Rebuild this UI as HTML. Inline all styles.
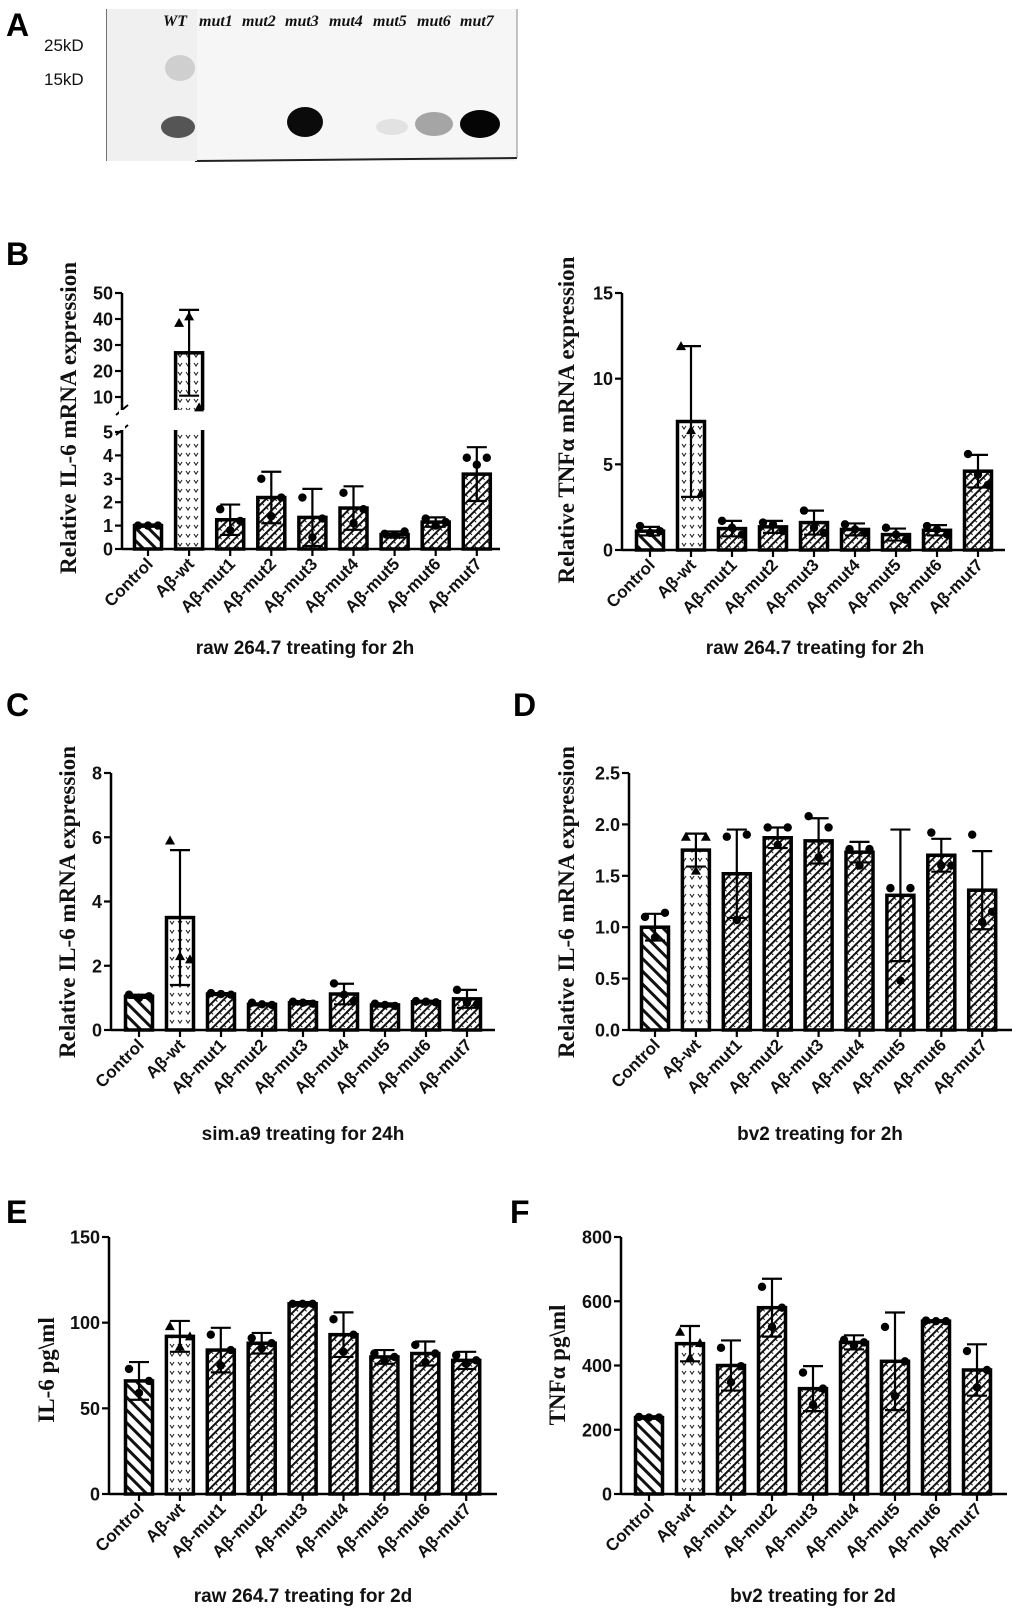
<!DOCTYPE html>
<html><head><meta charset="utf-8"><style>
html,body{margin:0;padding:0;background:#fff;}
svg{display:block;}
.tick{font:bold 18px "Liberation Sans",Arial,sans-serif;fill:#111;}
.cat{font:bold 17px "Liberation Sans",Arial,sans-serif;fill:#111;}
.ytitle{font:bold 23px "Liberation Serif","Times New Roman",serif;fill:#111;}
.xtitle{font:bold 19px "Liberation Sans",Arial,sans-serif;fill:#111;}
.plab{font:bold 32px "Liberation Sans",Arial,sans-serif;fill:#000;}
.lane{font:italic bold 16px "Liberation Serif",serif;fill:#111;}
.kd{font:17px "Liberation Sans",Arial,sans-serif;fill:#111;}
</style></head><body>
<svg id="fig" width="1020" height="1618" viewBox="0 0 1020 1618" xmlns="http://www.w3.org/2000/svg">
<defs>
<pattern id="pCtrl" patternUnits="userSpaceOnUse" width="9" height="9" patternTransform="rotate(-45)">
<rect width="9" height="9" fill="#fff"/><rect x="0" y="0" width="3" height="9" fill="#111"/></pattern>
<pattern id="pMut" patternUnits="userSpaceOnUse" width="6" height="6" patternTransform="rotate(45)">
<rect width="6" height="6" fill="#fff"/><rect x="0" y="0" width="2" height="6" fill="#111"/><rect x="2" y="2" width="2" height="1" fill="#111"/></pattern>
<pattern id="pWt" patternUnits="userSpaceOnUse" width="8" height="9">
<rect width="8" height="9" fill="#fff"/><path d="M2 3 L4 6 L6 3" stroke="#222" stroke-width="1.1" fill="none"/></pattern>
</defs>
<g id="panelA">
<text class="plab" x="6" y="36">A</text>
<rect x="107" y="9" width="410" height="152" fill="#f6f6f6"/>
<line x1="107" y1="9" x2="107" y2="161" stroke="#444" stroke-width="1.5"/>
<line x1="195" y1="161" x2="517" y2="158" stroke="#222" stroke-width="2"/>
<line x1="517" y1="9" x2="517" y2="158" stroke="#888" stroke-width="1"/>
<rect x="107" y="9" width="90" height="152" fill="#f0f0f0"/>
<ellipse cx="180" cy="68" rx="15" ry="13" fill="#cfcfcf"/>
<ellipse cx="178" cy="127" rx="17" ry="11" fill="#555"/>
<ellipse cx="305" cy="122" rx="18" ry="15" fill="#0b0b0b"/>
<ellipse cx="392" cy="127" rx="16" ry="8" fill="#e2e2e2"/>
<ellipse cx="434" cy="124" rx="19" ry="12" fill="#a5a5a5"/>
<ellipse cx="480" cy="124" rx="20" ry="14" fill="#050505"/>
<text class="kd" x="44" y="51">25kD</text>
<text class="kd" x="44" y="85">15kD</text>
<g id="lanes"></g>
</g>
</svg>
<script>
var NS="http://www.w3.org/2000/svg";
var svg=document.getElementById('fig');
var categories=["Control","Aβ-wt","Aβ-mut1","Aβ-mut2","Aβ-mut3","Aβ-mut4","Aβ-mut5","Aβ-mut6","Aβ-mut7"];
var laneNames=["WT","mut1","mut2","mut3","mut4","mut5","mut6","mut7"];
var laneX=[163,199,242,285,329,373,417,460];

var bL_means=[1.0,27,1.25,2.2,1.35,1.75,0.62,1.15,3.2];
var bL_sd=[0.05,16.5,0.65,1.1,1.22,0.93,0.13,0.2,1.15];
var bL_points=[[1,1,1],[38.5,41,6],[1.7,0.8,1.2],[3.0,1.4,2.2],[2.2,0.5,1.3],[2.4,1.1,1.7],[0.65,0.6,0.75],[1.3,1.0,1.15],[3.9,3.6,3.9]];
var bL_ticks=[0,1,2,3,4,5,10,20,30,40,50];
var bR_means=[1.1,7.5,1.25,1.35,1.6,1.2,0.9,1.15,4.6];
var bR_sd=[0.25,4.4,0.45,0.35,0.7,0.35,0.35,0.3,0.95];
var bR_points=[[1.4,1.0,1.1],[11.9,7.0,3.3],[1.7,1.3,0.9],[1.6,1.5,1.1],[2.3,1.3,1.0],[1.5,1.2,1.0],[1.3,0.9,0.6],[1.4,1.2,0.9],[5.6,4.4,3.8]];
var bR_ticks=[0,5,10,15];
var c_means=[1.05,3.5,1.12,0.8,0.85,1.12,0.78,0.88,0.97];
var c_sd=[0.05,2.1,0.03,0.03,0.05,0.32,0.05,0.03,0.28];
var c_points=[[1.1,1.0,1.05],[5.9,2.3,2.2],[1.15,1.12,1.1],[0.85,0.8,0.78],[0.88,0.85,0.82],[1.45,1.1,0.9],[0.82,0.78,0.75],[0.9,0.88,0.86],[1.25,0.85,0.8]];
var c_ticks=[0,2,4,6,8];
var d_means=[1.0,1.75,1.52,1.87,1.84,1.73,1.31,1.70,1.36];
var d_sd=[0.13,0.16,0.43,0.1,0.22,0.1,0.64,0.16,0.38];
var d_points=[[1.1,0.9,1.14],[1.88,1.55,1.88],[1.88,1.07,1.9],[1.97,1.8,1.97],[2.08,1.68,1.97],[1.76,1.6,1.76],[1.38,0.48,1.38],[1.92,1.6,1.6],[1.9,1.05,1.15]];
var d_ticks=[0,0.5,1.0,1.5,2.0,2.5];
var d_tickLabels=["0.0","0.5","1.0","1.5","2.0","2.5"];
var e_means=[66,92,84,88,111,93,80,82,78];
var e_sd=[11,9,13,6,1,13,4,7,5];
var e_points=[[73,59,66],[98,86,92],[93,75,84],[91,85,88],[111,111,111],[102,83,93],[82,78,80],[87,77,82],[81,76,78]];
var e_ticks=[0,50,100,150];
var f_means=[238,468,400,580,328,472,413,538,386];
var f_sd=[4,55,78,90,70,22,152,3,80];
var f_points=[[240,238,238],[505,425,470],[455,348,398],[645,520,580],[378,278,328],[480,462,472],[520,305,413],[540,538,538],[445,332,386]];
var f_ticks=[0,200,400,600,800];

function el(tag,attrs,parent){var e=document.createElementNS(NS,tag);for(var k in attrs)e.setAttribute(k,attrs[k]);(parent||svg).appendChild(e);return e;}

var lg=document.getElementById('lanes');
for(var i=0;i<laneNames.length;i++){
  var t=el('text',{'class':'lane',x:laneX[i],y:26},lg);
  
  
  t.textContent=laneNames[i];
}

function panel(o){
  var g=el('g',{});
  
  
  var yv=o.yScale;
  var xc=function(i){return o.c0+i*o.sp;};
  var bw=27;
  for(var i=0;i<categories.length;i++){
    var fill=i==0?'url(#pCtrl)':(i==1?'url(#pWt)':'url(#pMut)');
    var top=yv(o.means[i]);
    var r=el('rect',{x:xc(i)-bw/2,y:top,width:bw,height:o.y0-top,fill:fill,stroke:'#000','stroke-width':3.5},g);
    
    
  }
  if(o.broken){
    el('rect',{x:o.ax-4,y:o.gapTop,width:o.xEnd-o.ax+10,height:o.gapBot-o.gapTop,fill:'#fff'},g);
    el('line',{x1:o.ax-6,y1:o.gapTop+5,x2:o.ax+6,y2:o.gapTop-5,stroke:'#000','stroke-width':2},g);
    el('line',{x1:o.ax-6,y1:o.gapBot+5,x2:o.ax+6,y2:o.gapBot-5,stroke:'#000','stroke-width':2},g);
  }
  for(var i=0;i<categories.length;i++){
    var x=xc(i),m=o.means[i],s=o.sd[i];
    var yt=yv(m+s),yb=yv(Math.max(m-s,0));
    var eb=el('path',{d:'M'+x+' '+yb+' L'+x+' '+yt+' M'+(x-10)+' '+yt+' L'+(x+10)+' '+yt+(m-s>0?' M'+(x-10)+' '+yb+' L'+(x+10)+' '+yb:''),stroke:'#000','stroke-width':2.2,fill:'none'},g);
    
    
    var pts=o.points[i];
    var offs=[-10,0,10];
    for(var j=0;j<pts.length;j++){
      var py=yv(pts[j]),px=x+offs[j];
      var p;
      if(i==1){p=el('path',{d:'M'+px+' '+(py-5)+' L'+(px+5)+' '+(py+4)+' L'+(px-5)+' '+(py+4)+'Z',fill:'#000'},g);}
      else{p=el('circle',{cx:px,cy:py,r:4.2,fill:'#000'},g);}
      
      
    }
  }
  var yTop=yv(o.ticks[o.ticks.length-1]);
  var ya=el('line',{x1:o.ax,y1:o.y0,x2:o.ax,y2:yTop,stroke:'#000','stroke-width':2.5},g);
  
  
  if(o.broken){el('rect',{x:o.ax-3,y:o.gapTop,width:6,height:o.gapBot-o.gapTop,fill:'#fff'},g);}
  var xa=el('line',{x1:o.ax,y1:o.y0,x2:o.xEnd,y2:o.y0,stroke:'#000','stroke-width':2.5},g);
  
  
  for(var k=0;k<o.ticks.length;k++){
    var ty=yv(o.ticks[k]);
    el('line',{x1:o.ax-7,y1:ty,x2:o.ax,y2:ty,stroke:'#000','stroke-width':2.2},g);
    var tl=el('text',{'class':'tick',x:o.ax-9,y:ty+6.5,'text-anchor':'end'},g);
    
    
    tl.textContent=o.tickLabels?o.tickLabels[k]:String(o.ticks[k]);
  }
  for(var i=0;i<categories.length;i++){
    var x=xc(i);
    el('line',{x1:x,y1:o.y0,x2:x,y2:o.y0+7,stroke:'#000','stroke-width':2.2},g);
    var lx=x+6,ly=o.y0+16;
    var cl=el('text',{'class':'cat',x:lx,y:ly,'text-anchor':'end',transform:'rotate(-45 '+lx+' '+ly+')'},g);
    
    
    cl.textContent=categories[i];
  }
  var yt=el('text',{'class':'ytitle',x:o.ytx,y:o.yty,'text-anchor':'middle',transform:'rotate(-90 '+o.ytx+' '+o.yty+')'},g);
  
  
  yt.textContent=o.ytitle;
  var xt=el('text',{'class':'xtitle',x:o.xtx,y:o.xty,'text-anchor':'middle'},g);
  
  
  xt.textContent=o.xtitle;
  if(o.letter){
    var pl=el('text',{'class':'plab',x:o.lx,y:o.ly},g);
    
    
    pl.textContent=o.letter;
  }
}

function lin(y0,yTop,vmax){return function(v){return y0-(v/vmax)*(y0-yTop);};}
function brokenScale(v){ if(v<=5.2) return 549-v*23.4; var y=397-(v-10)*2.6; return Math.min(y,410);}

panel({name:'panel-b-il6-raw-2h',means:bL_means,sd:bL_sd,points:bL_points,ticks:bL_ticks,yScale:brokenScale,broken:true,gapTop:410,gapBot:430,
  ax:122,y0:549,xEnd:500,c0:148,sp:41.1,ytitle:'Relative IL-6 mRNA expression',ytx:76,yty:418,xtitle:'raw 264.7 treating for 2h',xtx:305,xty:654,letter:'B',lx:6,ly:265});
panel({name:'panel-b-tnfa-raw-2h',means:bR_means,sd:bR_sd,points:bR_points,ticks:bR_ticks,yScale:lin(550,293,15),
  ax:622,y0:550,xEnd:1005,c0:650,sp:41,ytitle:'Relative TNFα mRNA expression',ytx:574,yty:420,xtitle:'raw 264.7 treating for 2h',xtx:815,xty:654});
panel({name:'panel-c-il6-sima9-24h',means:c_means,sd:c_sd,points:c_points,ticks:c_ticks,yScale:lin(1030,773,8),
  ax:111,y0:1030,xEnd:495,c0:139,sp:41,ytitle:'Relative IL-6 mRNA expression',ytx:75,yty:902,xtitle:'sim.a9 treating for 24h',xtx:303,xty:1140,letter:'C',lx:6,ly:716});
panel({name:'panel-d-il6-bv2-2h',means:d_means,sd:d_sd,points:d_points,ticks:d_ticks,tickLabels:d_tickLabels,yScale:lin(1030,773,2.5),
  ax:629,y0:1030,xEnd:1012,c0:655,sp:40.9,ytitle:'Relative IL-6 mRNA expression',ytx:574,yty:902,xtitle:'bv2 treating for 2h',xtx:820,xty:1140,letter:'D',lx:513,ly:716});
panel({name:'panel-e-il6-protein-raw-2d',means:e_means,sd:e_sd,points:e_points,ticks:e_ticks,yScale:lin(1494,1237,150),
  ax:109,y0:1494,xEnd:497,c0:139,sp:40.9,ytitle:'IL-6 pg\\ml',ytx:54,yty:1370,xtitle:'raw 264.7 treating for 2d',xtx:303,xty:1602,letter:'E',lx:6,ly:1223});
panel({name:'panel-f-tnfa-protein-bv2-2d',means:f_means,sd:f_sd,points:f_points,ticks:f_ticks,yScale:lin(1494,1237,800),
  ax:621,y0:1494,xEnd:1007,c0:649,sp:41,ytitle:'TNFα pg\\ml',ytx:565,yty:1365,xtitle:'bv2 treating for 2d',xtx:813,xty:1602,letter:'F',lx:510,ly:1223});
</script>
</body></html>
